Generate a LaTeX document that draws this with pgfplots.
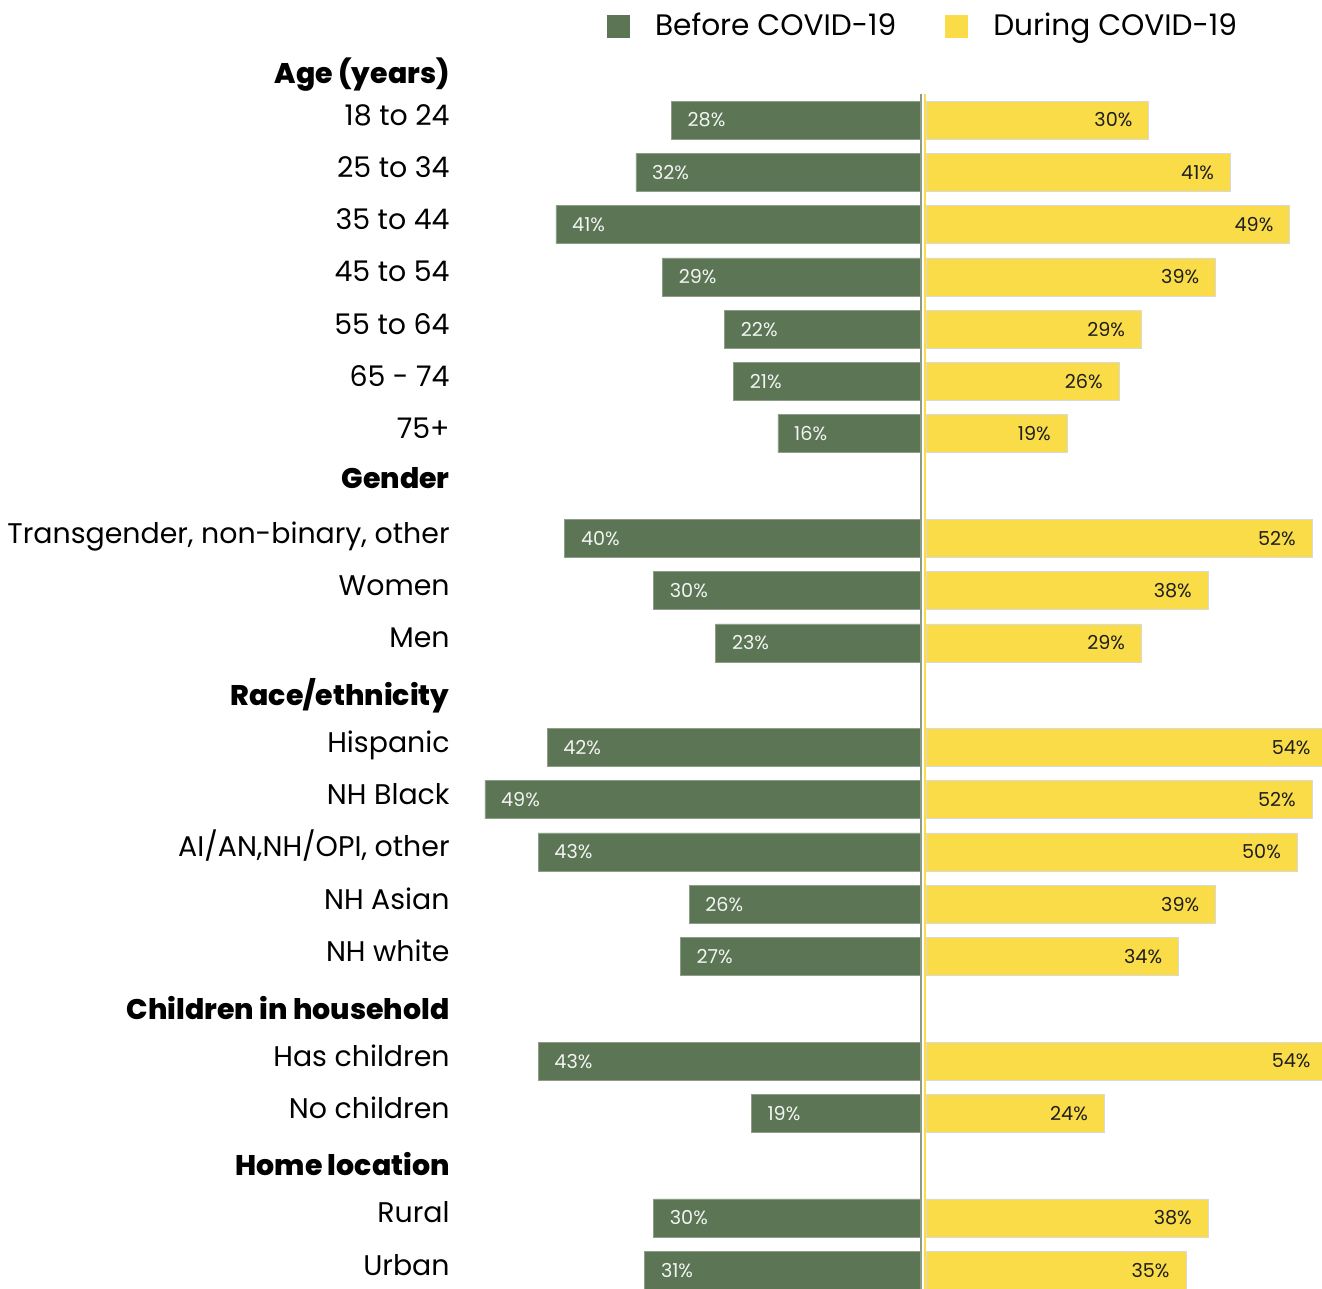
\documentclass[border=0pt]{standalone}
\usepackage{pgfplots}
\pgfplotsset{compat=1.18}
\usepackage{fontspec}
\setmainfont{Poppins}[BoldFont={Poppins ExtraBold}]
\definecolor{cgreen}{HTML}{5B7555}
\definecolor{cyellow}{HTML}{F9DC48}
\definecolor{cline}{HTML}{8C9A88}

\begin{document}
\begin{tikzpicture}[x=1bp,y=1bp]
\useasboundingbox (0,0) rectangle (661,-644.5);
\begin{axis}[
  at={(230bp,-20.8bp)}, anchor=north west,
  scale only axis, width=230bp, height=624.2bp,
  xbar, bar width=19bp, bar shift=0pt, x dir=reverse,
  xmin=0, xmax=51.8, ymin=-0.5, ymax=23.38, y dir=reverse,
  axis line style={draw=none}, major tick length=0pt, xtick=\empty,
  /pgf/number format/assume math mode=true,
  ytick={0.2,1,2,3,4,5,6,7,7.95,9,10,11,12.1,13,14,15,16,17,18.1,19,20,21.1,22,23},
  yticklabels={\textbf{Age (years)},18 to 24,25 to 34,35 to 44,45 to 54,55 to 64,65 - 74,75+,\textbf{Gender},{Transgender, non-binary, other},Women,Men,\textbf{Race/ethnicity},Hispanic,NH Black,{AI/AN,NH/OPI, other},NH Asian,NH white,\textbf{Children in household},Has children,No children,\textbf{Home location},Rural,Urban},
  yticklabel style={anchor=base east, inner sep=0pt, xshift=-5bp, yshift=-2.5bp, font=\fontsize{14.2bp}{16bp}\selectfont},
  point meta=x,
  nodes near coords={\pgfmathprintnumber[fixed,precision=0]{\pgfplotspointmeta}\%},
  nodes near coords style={anchor=west, inner sep=0pt, xshift=8bp, font=\fontsize{9.6bp}{11bp}\selectfont},
  clip=false,
]
\addplot[fill=cgreen, draw=cgreen!70!white, line width=0.3bp, nodes near coords style={text=white!92!cgreen}] coordinates {
(28,1) (32,2) (41,3) (29,4) (22,5) (21,6) (16,7)
(40,9) (30,10) (23,11)
(42,13) (49,14) (43,15) (26,16) (27,17)
(43,19) (19,20)
(30,22) (31,23)};
\draw[cline, line width=1bp] (axis cs:-0.11,0.5) -- (axis cs:-0.11,23.38);
\draw[cyellow, line width=0.8bp] (axis cs:-0.56,0.5) -- (axis cs:-0.56,23.38);
\end{axis}
\begin{axis}[
  at={(463bp,-20.8bp)}, anchor=north west,
  scale only axis, width=200.4bp, height=624.2bp,
  xbar, bar width=19bp, bar shift=0pt,
  xmin=0, xmax=54, ymin=-0.5, ymax=23.38, y dir=reverse,
  axis line style={draw=none}, major tick length=0pt, xtick=\empty, ytick=\empty,
  /pgf/number format/assume math mode=true,
  point meta=x,
  nodes near coords={\pgfmathprintnumber[fixed,precision=0]{\pgfplotspointmeta}\%},
  nodes near coords style={anchor=east, inner sep=0pt, xshift=-8bp, text=black!88, font=\fontsize{9.6bp}{11bp}\selectfont},
  legend image code/.code={\fill[#1] (0bp,-5.75bp) rectangle (11.5bp,5.75bp);},
  legend columns=2,
  legend style={at={(axis description cs:-0.7959,1.0125)}, anchor=west, draw=none, fill=none, inner sep=0pt, outer sep=0pt,
    font=\fontsize{14.8bp}{16bp}\selectfont,
    nodes={inner sep=0pt, outer sep=0pt},
    /tikz/every odd column/.append style={column sep=12.5bp},
    /tikz/every even column/.append style={column sep=24.5bp}},
]
\addplot[fill=cyellow, draw=black!15, line width=0.3bp, forget plot] coordinates {
(30,1) (41,2) (49,3) (39,4) (29,5) (26,6) (19,7)
(52,9) (38,10) (29,11)
(54,13) (52,14) (50,15) (39,16) (34,17)
(54,19) (24,20)
(38,22) (35,23)};
\addlegendimage{fill=cgreen, draw=none}
\addlegendentry{Before COVID-19}
\addlegendimage{fill=cyellow, draw=none}
\addlegendentry{During COVID-19}
\end{axis}
\end{tikzpicture}
\end{document}
